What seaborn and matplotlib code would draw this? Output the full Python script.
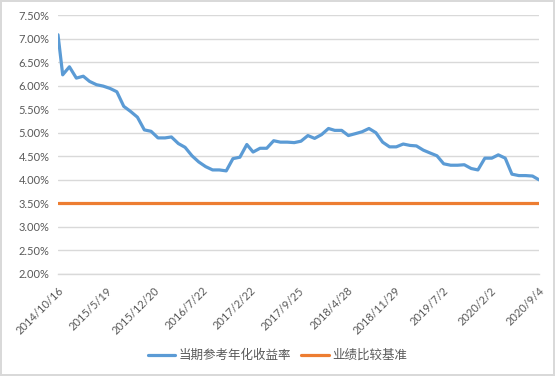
import matplotlib
matplotlib.use("Agg")
import matplotlib.pyplot as plt
import matplotlib.ticker as ticker
import seaborn as sns
import numpy as np
import pandas as pd

# Data
seriesYield = "当期参考年化收益率"
seriesBench = "业绩比较基准"

firstDate = "2014-10-16"
lastDate = "2020-09-04"
monthlyDates = pd.date_range("2014-11-01", periods=70, freq="MS") + pd.Timedelta(days=5)
dates = [pd.Timestamp(firstDate)] + list(monthlyDates) + [pd.Timestamp(lastDate)]

yieldValues = [7.08, 6.23, 6.40, 6.16, 6.20, 6.09, 6.02, 5.99, 5.94, 5.87,
               5.56, 5.45, 5.33, 5.06, 5.03, 4.89, 4.89, 4.91, 4.77, 4.69,
               4.51, 4.38, 4.28, 4.21, 4.21, 4.19, 4.45, 4.48, 4.75, 4.59,
               4.67, 4.67, 4.83, 4.80, 4.80, 4.79, 4.82, 4.94, 4.88, 4.96,
               5.09, 5.05, 5.05, 4.94, 4.98, 5.02, 5.09, 5.00, 4.80, 4.70,
               4.70, 4.76, 4.73, 4.72, 4.63, 4.57, 4.51, 4.34, 4.31, 4.31,
               4.32, 4.24, 4.21, 4.46, 4.46, 4.53, 4.46, 4.12, 4.09, 4.09,
               4.08, 4.00]
benchValue = 3.50

tickDates = ["2014-10-16", "2015-05-19", "2015-12-20", "2016-07-22", "2017-02-22",
             "2017-09-25", "2018-04-28", "2018-11-29", "2019-07-02", "2020-02-02",
             "2020-09-04"]
tickLabels = ["2014/10/16", "2015/5/19", "2015/12/20", "2016/7/22", "2017/2/22",
              "2017/9/25", "2018/4/28", "2018/11/29", "2019/7/2", "2020/2/2",
              "2020/9/4"]

# Parameters
my_fontsize = 8
text_color = "#595959"
grid_color = "#d9d9d9"
colors = ["#5B9BD5", "#ED7D31"]

sns.set_style("white")
plt.rcParams['font.family'] = ['Lato', 'Noto Sans CJK SC', 'DejaVu Sans']

df = pd.DataFrame({
    "date": dates * 2,
    "value": yieldValues + [benchValue] * len(dates),
    "series": [seriesYield] * len(dates) + [seriesBench] * len(dates),
})

fig = plt.figure(figsize=(5.55, 3.76), dpi=100)
fig.patch.set_edgecolor(grid_color)
fig.patch.set_linewidth(1.5)
ax = fig.add_axes([58 / 555, 1 - 274 / 376, (539 - 58) / 555, (274 - 15) / 376])

sns.lineplot(data=df, x="date", y="value", hue="series", palette=colors,
             linewidth=2.3, ax=ax, legend=False)

ax.set_ylim(2.0, 7.5)
ax.set_xlim(pd.Timestamp(firstDate), pd.Timestamp(lastDate))
ax.yaxis.set_major_locator(ticker.MultipleLocator(0.5))
ax.yaxis.set_major_formatter(ticker.FuncFormatter(lambda v, p: "%.2f%%" % v))
ax.set_xticks([pd.Timestamp(d) for d in tickDates])
ax.set_xticklabels(tickLabels, rotation=45, ha="right", rotation_mode="anchor")
ax.set_xlabel("")
ax.set_ylabel("")
ax.grid(axis="y", color=grid_color, linewidth=1)
ax.set_axisbelow(True)
for s in ["left", "right", "top"]:
    ax.spines[s].set_visible(False)
ax.spines["bottom"].set_color(grid_color)
ax.spines["bottom"].set_linewidth(1)
ax.tick_params(axis="x", colors=text_color, labelsize=my_fontsize, length=5,
               width=1, color=grid_color, pad=3)
ax.tick_params(axis="y", colors=text_color, labelsize=my_fontsize, length=0, pad=6)

handles = [plt.Line2D([], [], color=c, linewidth=2.3) for c in colors]
fig.legend(handles, [seriesYield, seriesBench], loc="center", ncol=2,
           bbox_to_anchor=(0.5, 1 - 355 / 376), frameon=False,
           fontsize=9, labelcolor=text_color, handlelength=2.2,
           handletextpad=0.3, columnspacing=0.8)

fig.savefig("out.png", dpi=100)
